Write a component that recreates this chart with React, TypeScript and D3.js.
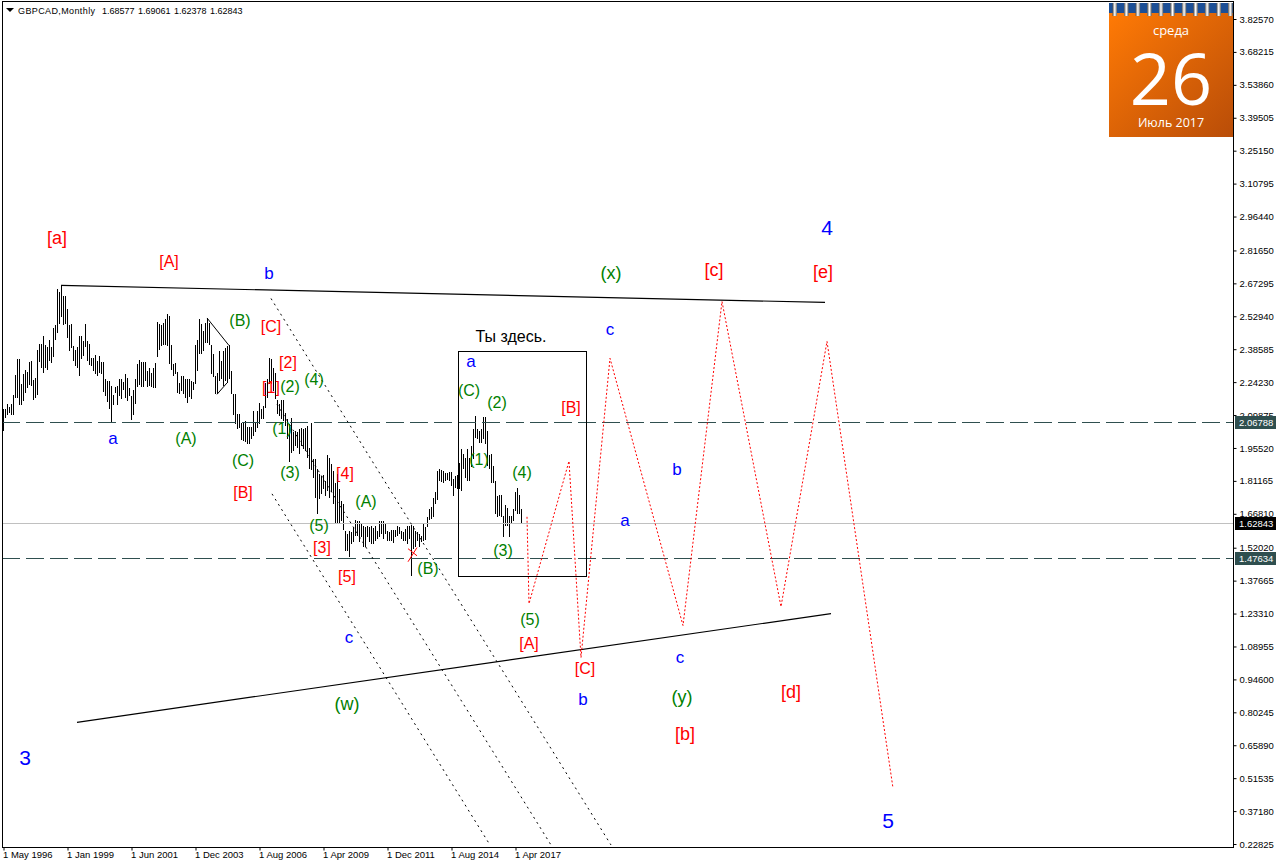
import React, { useEffect, useRef } from "react";
import * as d3 from "d3";

// monthly high / low, one value per bar from May 1996
const barHigh = [
  2.123, 2.123, 2.149, 2.133, 2.149, 2.188, 2.273, 2.345, 2.345, 2.232, 2.276, 2.294, 2.287, 2.329, 2.333, 2.251, 2.261, 2.384, 2.41, 2.41,
  2.442, 2.406, 2.396, 2.428, 2.396, 2.478, 2.493, 2.648, 2.634, 2.667, 2.616, 2.616, 2.563, 2.493, 2.496, 2.399, 2.384, 2.394, 2.442, 2.442,
  2.423, 2.497, 2.423, 2.41, 2.348, 2.348, 2.36, 2.333, 2.355, 2.329, 2.329, 2.254, 2.249, 2.246, 2.225, 2.188, 2.22, 2.225, 2.258, 2.258,
  2.244, 2.278, 2.261, 2.215, 2.181, 2.21, 2.254, 2.323, 2.338, 2.329, 2.331, 2.329, 2.29, 2.305, 2.283, 2.305, 2.326, 2.503, 2.496, 2.493,
  2.5, 2.519, 2.541, 2.529, 2.406, 2.323, 2.326, 2.287, 2.239, 2.268, 2.268, 2.258, 2.254, 2.254, 2.247, 2.244, 2.406, 2.424, 2.519, 2.496,
  2.464, 2.5, 2.522, 2.5, 2.406, 2.363, 2.268, 2.283, 2.377, 2.334, 2.377, 2.389, 2.399, 2.402, 2.29, 2.192, 2.192, 2.102, 2.102, 2.065,
  2.065, 2.073, 2.047, 2.047, 2.047, 2.116, 2.065, 2.116, 2.152, 2.123, 2.138, 2.239, 2.254, 2.348, 2.342, 2.303, 2.281, 2.163, 2.145, 2.163,
  2.163, 2.109, 2.08, 2.058, 2.087, 2.025, 2.029, 2.025, 2.036, 2.044, 2.036, 2.044, 2.051, 1.957, 2.065, 1.906, 1.906, 1.862, 1.841, 1.833,
  1.838, 1.812, 1.923, 1.91, 1.884, 1.855, 1.804, 1.841, 1.775, 1.725, 1.71, 1.594, 1.58, 1.591, 1.587, 1.609, 1.642, 1.635, 1.638, 1.623,
  1.616, 1.609, 1.616, 1.609, 1.616, 1.606, 1.616, 1.594, 1.635, 1.638, 1.635, 1.63, 1.594, 1.587, 1.597, 1.597, 1.597, 1.616, 1.609, 1.594,
  1.587, 1.601, 1.616, 1.616, 1.62, 1.616, 1.594, 1.59, 1.58, 1.572, 1.626, 1.609, 1.652, 1.688, 1.696, 1.739, 1.765, 1.855, 1.862, 1.86,
  1.855, 1.848, 1.845, 1.851, 1.851, 1.819, 1.833, 1.838, 1.891, 1.949, 1.928, 1.913, 1.949, 1.913, 1.964, 2.036, 2.094, 2.036, 2.029, 2.036,
  2.092, 2.092, 2.029, 1.925, 1.928, 1.877, 1.812, 1.746, 1.749, 1.749, 1.659, 1.707, 1.693, 1.659, 1.659, 1.688, 1.761, 1.78, 1.751, 1.691,
];
const barLow = [
  2.029, 2.084, 2.099, 2.106, 2.101, 2.099, 2.174, 2.171, 2.142, 2.142, 2.159, 2.196, 2.218, 2.229, 2.225, 2.165, 2.174, 2.186, 2.329, 2.304,
  2.283, 2.302, 2.294, 2.333, 2.326, 2.351, 2.428, 2.457, 2.496, 2.525, 2.493, 2.497, 2.435, 2.377, 2.392, 2.333, 2.312, 2.302, 2.268, 2.341,
  2.355, 2.394, 2.333, 2.319, 2.312, 2.29, 2.276, 2.268, 2.283, 2.276, 2.2, 2.181, 2.157, 2.123, 2.062, 2.142, 2.196, 2.142, 2.181, 2.167,
  2.21, 2.171, 2.162, 2.181, 2.075, 2.101, 2.149, 2.22, 2.228, 2.22, 2.22, 2.247, 2.22, 2.225, 2.22, 2.215, 2.215, 2.351, 2.384, 2.399,
  2.406, 2.402, 2.399, 2.323, 2.297, 2.268, 2.276, 2.196, 2.192, 2.203, 2.189, 2.174, 2.152, 2.177, 2.167, 2.21, 2.232, 2.29, 2.363, 2.367,
  2.377, 2.413, 2.413, 2.406, 2.276, 2.264, 2.189, 2.189, 2.247, 2.258, 2.225, 2.247, 2.239, 2.258, 2.189, 2.099, 2.061, 2.039, 2.044, 1.989,
  1.986, 1.981, 1.974, 1.971, 1.993, 2.007, 2.026, 2.044, 2.061, 2.08, 2.08, 2.131, 2.174, 2.232, 2.234, 2.203, 2.168, 2.102, 2.094, 2.083,
  2.073, 2.051, 1.993, 1.896, 1.935, 1.942, 1.964, 1.957, 1.928, 1.964, 1.949, 1.942, 1.913, 1.862, 1.858, 1.826, 1.739, 1.667, 1.732, 1.754,
  1.775, 1.746, 1.768, 1.739, 1.761, 1.71, 1.623, 1.63, 1.63, 1.638, 1.597, 1.507, 1.507, 1.478, 1.536, 1.544, 1.573, 1.573, 1.544, 1.565,
  1.522, 1.522, 1.565, 1.544, 1.536, 1.536, 1.551, 1.558, 1.565, 1.58, 1.558, 1.58, 1.551, 1.551, 1.551, 1.539, 1.565, 1.573, 1.58, 1.558,
  1.551, 1.551, 1.536, 1.558, 1.398, 1.514, 1.522, 1.551, 1.522, 1.543, 1.551, 1.554, 1.609, 1.641, 1.645, 1.652, 1.71, 1.729, 1.812, 1.807,
  1.804, 1.812, 1.815, 1.812, 1.79, 1.746, 1.78, 1.775, 1.775, 1.768, 1.862, 1.826, 1.812, 1.812, 1.87, 1.906, 2.0, 1.993, 1.978, 1.978,
  1.993, 1.971, 1.877, 1.862, 1.804, 1.804, 1.667, 1.652, 1.659, 1.652, 1.565, 1.616, 1.616, 1.565, 1.623, 1.638, 1.681, 1.667, 1.667, 1.624,
];

const priceTicks = [
  3.8257, 3.68215, 3.5386, 3.39505, 3.2515, 3.10795, 2.9644, 2.8165, 2.67295, 2.5294, 2.38585, 2.2423, 2.09875, 1.9552, 1.81165, 1.6681, 1.5202,
  1.37665, 1.2331, 1.08955, 0.946, 0.80245, 0.6589, 0.51535, 0.3718, 0.22825,
];
const timeTicks = [0, 32, 64, 96, 128, 160, 192, 224, 256];
const timeLabels = [
  "1 May 1996", "1 Jan 1999", "1 Jun 2001", "1 Dec 2003", "1 Aug 2006", "1 Apr 2009", "1 Dec 2011", "1 Aug 2014", "1 Apr 2017",
];
const lastQuotes = ["1.68577", "1.69061", "1.62378", "1.62843"];

// [bar index, price] pairs
const resistanceLevel = 2.06788;
const supportLevel = 1.47634;
const lastPrice = 1.62843;
const upperTrend = [[29, 2.664], [411, 2.59]];
const lowerTrend = [[37, 0.759], [414, 1.233]];
const channelA = [[134, 2.607], [304, 0.224]];
const channelB = [[137, 2.146], [274, 0.224]];
const channelC = [[134.5, 1.755], [243.5, 0.224]];
const wedgeTop = [[102, 2.522], [113, 2.402]];
const wedgeBottom = [[107, 2.189], [112, 2.239]];
const crossA = [[202.5, 1.459], [207, 1.521]];
const crossB = [[202.5, 1.516], [207, 1.485]];
const youAreHereBox = [[227.5, 2.377], [291.5, 1.398]];
const forecastPath = [
  [262, 1.655], [263, 1.276], [283, 1.898], [289, 1.041], [303.5, 2.346], [340, 1.181], [359.5, 2.594], [389, 1.263], [412, 2.42], [445, 0.472],
];

// text, bar index, price, degree
const waveLabels: [string, number, number, string][] = [
  ["[a]", 27, 2.864, "redBig"],
  ["[A]", 83, 2.76, "red"],
  ["b", 133, 2.708, "blue"],
  ["[C]", 134, 2.477, "red"],
  ["[2]", 142.5, 2.32, "red"],
  ["[1]", 134, 2.212, "red"],
  ["(2)", 143.5, 2.216, "green"],
  ["(4)", 155.5, 2.246, "green"],
  ["(B)", 118.5, 2.503, "green"],
  ["(1)", 139.5, 2.033, "green"],
  ["(A)", 91.5, 1.99, "green"],
  ["a", 55, 1.99, "blue"],
  ["(C)", 120, 1.894, "green"],
  ["(3)", 143.5, 1.842, "green"],
  ["[B]", 120, 1.755, "red"],
  ["[4]", 171, 1.838, "red"],
  ["(A)", 181.5, 1.716, "green"],
  ["(5)", 158, 1.611, "green"],
  ["[3]", 159.5, 1.516, "red"],
  ["[5]", 172, 1.389, "red"],
  ["(B)", 212.5, 1.424, "green"],
  ["c", 173, 1.12, "blue"],
  ["(w)", 172, 0.833, "greenBig"],
  ["3", 11, 0.598, "major"],
  ["Ты здесь.", 254, 2.433, "black"],
  ["a", 234, 2.325, "blue"],
  ["(C)", 233, 2.199, "green"],
  ["(2)", 247, 2.146, "green"],
  ["(1)", 238, 1.898, "green"],
  ["(4)", 259.5, 1.842, "green"],
  ["(3)", 250, 1.503, "green"],
  ["[B]", 284, 2.125, "red"],
  ["(5)", 263.5, 1.202, "green"],
  ["[A]", 263, 1.098, "red"],
  ["[C]", 291, 0.985, "red"],
  ["b", 290, 0.85, "blue"],
  ["c", 303.5, 2.464, "blue"],
  ["(x)", 304, 2.712, "greenBig"],
  ["[c]", 355.5, 2.725, "redBig"],
  ["4", 412, 2.908, "major"],
  ["[e]", 410, 2.716, "redBig"],
  ["b", 337, 1.855, "blue"],
  ["a", 311, 1.633, "blue"],
  ["c", 338.5, 1.037, "blue"],
  ["(y)", 339.5, 0.863, "greenBig"],
  ["[b]", 341, 0.702, "redBig"],
  ["[d]", 394, 0.885, "redBig"],
  ["5", 442.5, 0.324, "major"],
];

const degreeStyle: Record<string, { fill: string; size: number }> = {
  major: { fill: "#0000ff", size: 21 },
  blue: { fill: "#0000ff", size: 17 },
  redBig: { fill: "#ff0000", size: 18 },
  red: { fill: "#ff0000", size: 16 },
  greenBig: { fill: "#008000", size: 18 },
  green: { fill: "#008000", size: 16 },
  black: { fill: "#000000", size: 16 },
};

const width = 1276;
const height = 868;
const axisFont = "'Liberation Sans', Arial, sans-serif";
const axisSize = 9.5;

const App: React.FC = () => {
  const ref = useRef<SVGSVGElement>(null);

  useEffect(() => {
    const svg = d3.select(ref.current);
    svg.selectAll("*").remove();

    const plot = { left: 2, right: 1233, top: 1, bottom: 847 };
    const x = d3.scaleLinear().domain([0, 615]).range([3, 1233]);
    const y = d3.scaleLinear().domain([0.22825, 3.8257]).range([844, 19]);

    svg.append("rect").attr("width", width).attr("height", height).attr("fill", "#fff");

    // Bars
    svg
      .append("g")
      .attr("stroke", "#000")
      .attr("shape-rendering", "crispEdges")
      .selectAll("line")
      .data(barHigh)
      .enter()
      .append("line")
      .attr("x1", (d, i) => Math.round(x(i)) + 0.5)
      .attr("x2", (d, i) => Math.round(x(i)) + 0.5)
      .attr("y1", (d) => y(d))
      .attr("y2", (d, i) => y(barLow[i]));

    // Levels
    const level = (value: number, stroke: string, dash: string | null) =>
      svg
        .append("line")
        .attr("x1", plot.left)
        .attr("x2", plot.right)
        .attr("y1", Math.round(y(value)) + 0.5)
        .attr("y2", Math.round(y(value)) + 0.5)
        .attr("stroke", stroke)
        .attr("stroke-dasharray", dash)
        .attr("shape-rendering", "crispEdges");
    level(resistanceLevel, "#2f4f4f", "18 6");
    level(supportLevel, "#2f4f4f", "18 6");
    level(lastPrice, "#c0c0c0", null);

    const line = d3
      .line<number[]>()
      .x((d) => x(d[0]))
      .y((d) => y(d[1]));
    const path = (pts: number[][], stroke: string, w: number, dash: string | null) =>
      svg
        .append("path")
        .attr("d", line(pts))
        .attr("fill", "none")
        .attr("stroke", stroke)
        .attr("stroke-width", w)
        .attr("stroke-dasharray", dash);

    path(upperTrend, "#000", 1.2, null);
    path(lowerTrend, "#000", 1.2, null);
    path(channelA, "#000", 1, "2 4");
    path(channelB, "#000", 1, "2 4");
    path(channelC, "#000", 1, "2 4");
    path(wedgeTop, "#000", 1, null);
    path(wedgeBottom, "#000", 1, null);
    path(crossA, "#ff0000", 1, null);
    path(crossB, "#ff0000", 1, null);
    path(forecastPath, "#ff0000", 1, "2 2");

    svg
      .append("rect")
      .attr("x", Math.round(x(youAreHereBox[0][0])) + 0.5)
      .attr("y", Math.round(y(youAreHereBox[0][1])) + 0.5)
      .attr("width", Math.round(x(youAreHereBox[1][0]) - x(youAreHereBox[0][0])))
      .attr("height", Math.round(y(youAreHereBox[1][1]) - y(youAreHereBox[0][1])))
      .attr("fill", "none")
      .attr("stroke", "#000")
      .attr("shape-rendering", "crispEdges");

    // Wave labels
    svg
      .append("g")
      .attr("font-family", axisFont)
      .attr("text-anchor", "middle")
      .selectAll("text")
      .data(waveLabels)
      .enter()
      .append("text")
      .attr("x", (d) => x(d[1]))
      .attr("y", (d) => y(d[2]) - 1.5)
      .attr("dominant-baseline", "central")
      .attr("fill", (d) => degreeStyle[d[3]].fill)
      .attr("font-size", (d) => degreeStyle[d[3]].size)
      .text((d) => d[0]);

    // Frame
    svg
      .append("path")
      .attr("d", `M${plot.right + 0.5},${plot.top}H${plot.left + 0.5}V${plot.bottom + 0.5}H${plot.right + 0.5}V${plot.top}`)
      .attr("fill", "none")
      .attr("stroke", "#000")
      .attr("shape-rendering", "crispEdges");

    // Price axis
    const priceAxis = svg
      .append("g")
      .attr("transform", `translate(${plot.right + 0.5},0)`)
      .call(d3.axisRight(y).tickValues(priceTicks).tickFormat(d3.format(".5f") as any).tickSize(3).tickPadding(3));
    priceAxis.select(".domain").remove();
    priceAxis.selectAll("text").attr("font-family", axisFont).attr("font-size", axisSize).attr("fill", "#000");

    // Time axis
    const timeAxis = svg
      .append("g")
      .attr("transform", `translate(0.5,${plot.bottom + 0.5})`)
      .call(
        d3
          .axisBottom(x)
          .tickValues(timeTicks)
          .tickFormat((d, i) => timeLabels[i])
          .tickSize(3)
          .tickPadding(1)
      );
    timeAxis.select(".domain").remove();
    timeAxis
      .selectAll("text")
      .attr("font-family", axisFont)
      .attr("font-size", axisSize)
      .attr("fill", "#000")
      .attr("text-anchor", "start")
      .attr("x", -1);

    // Price tags
    [
      [resistanceLevel, "#2f4f4f"],
      [lastPrice, "#000000"],
      [supportLevel, "#2f4f4f"],
    ].forEach(([value, fill]) => {
      const cy = Math.round(y(value as number));
      svg.append("rect").attr("x", 1235).attr("y", cy - 6).attr("width", 41).attr("height", 13).attr("fill", fill as string);
      svg
        .append("text")
        .attr("x", 1239)
        .attr("y", cy + 4)
        .attr("fill", "#fff")
        .attr("font-family", axisFont)
        .attr("font-size", axisSize)
        .text((value as number).toFixed(5));
    });

    // Header
    svg.append("path").attr("d", "M6,8H14L10,12Z").attr("fill", "#000");
    const header = svg.append("g").attr("font-family", axisFont).attr("font-size", 9).attr("fill", "#000");
    header.append("text").attr("x", 18).attr("y", 14).attr("textLength", 77).text("GBPCAD,Monthly");
    header
      .selectAll(".quote")
      .data(lastQuotes)
      .enter()
      .append("text")
      .attr("class", "quote")
      .attr("x", (d, i) => 102 + i * 36)
      .attr("y", 14)
      .text((d) => d);

    // Calendar widget
    const defs = svg.append("defs");
    const grad = defs
      .append("linearGradient")
      .attr("id", "calendar")
      .attr("x1", 0)
      .attr("y1", 0)
      .attr("x2", 1)
      .attr("y2", 1);
    grad.append("stop").attr("offset", "0%").attr("stop-color", "#ff7a05");
    grad.append("stop").attr("offset", "100%").attr("stop-color", "#b94d08");
    const ringGrad = defs.append("linearGradient").attr("id", "ring");
    ringGrad.append("stop").attr("offset", "0%").attr("stop-color", "#555");
    ringGrad.append("stop").attr("offset", "50%").attr("stop-color", "#fff");
    ringGrad.append("stop").attr("offset", "100%").attr("stop-color", "#666");

    const cal = svg.append("g").attr("transform", "translate(1109,3)");
    cal.append("rect").attr("width", 124).attr("height", 10).attr("fill", "#1c4f96");
    cal.append("rect").attr("y", 10).attr("width", 124).attr("height", 124).attr("fill", "url(#calendar)");
    cal
      .selectAll(".ring")
      .data(d3.range(11))
      .enter()
      .append("rect")
      .attr("class", "ring")
      .attr("x", (d) => 3.5 + d * 11.55)
      .attr("y", 0)
      .attr("width", 4.5)
      .attr("height", 13)
      .attr("fill", "url(#ring)");
    const calText = (t: string, cy: number, size: number, weight: number) =>
      cal
        .append("text")
        .attr("x", 62)
        .attr("y", cy)
        .attr("text-anchor", "middle")
        .attr("dominant-baseline", "central")
        .attr("fill", "#fff")
        .attr("font-family", "'Open Sans', sans-serif")
        .attr("font-size", size)
        .attr("font-weight", weight)
        .text(t);
    calText("среда", 27, 13, 400);
    calText("26", 74, 72, 400);
    calText("Июль 2017", 119, 12.5, 400);
  }, []);

  return <svg ref={ref} width={width} height={height} style={{ position: "absolute", left: 0, top: 0 }} />;
};

export default App;
